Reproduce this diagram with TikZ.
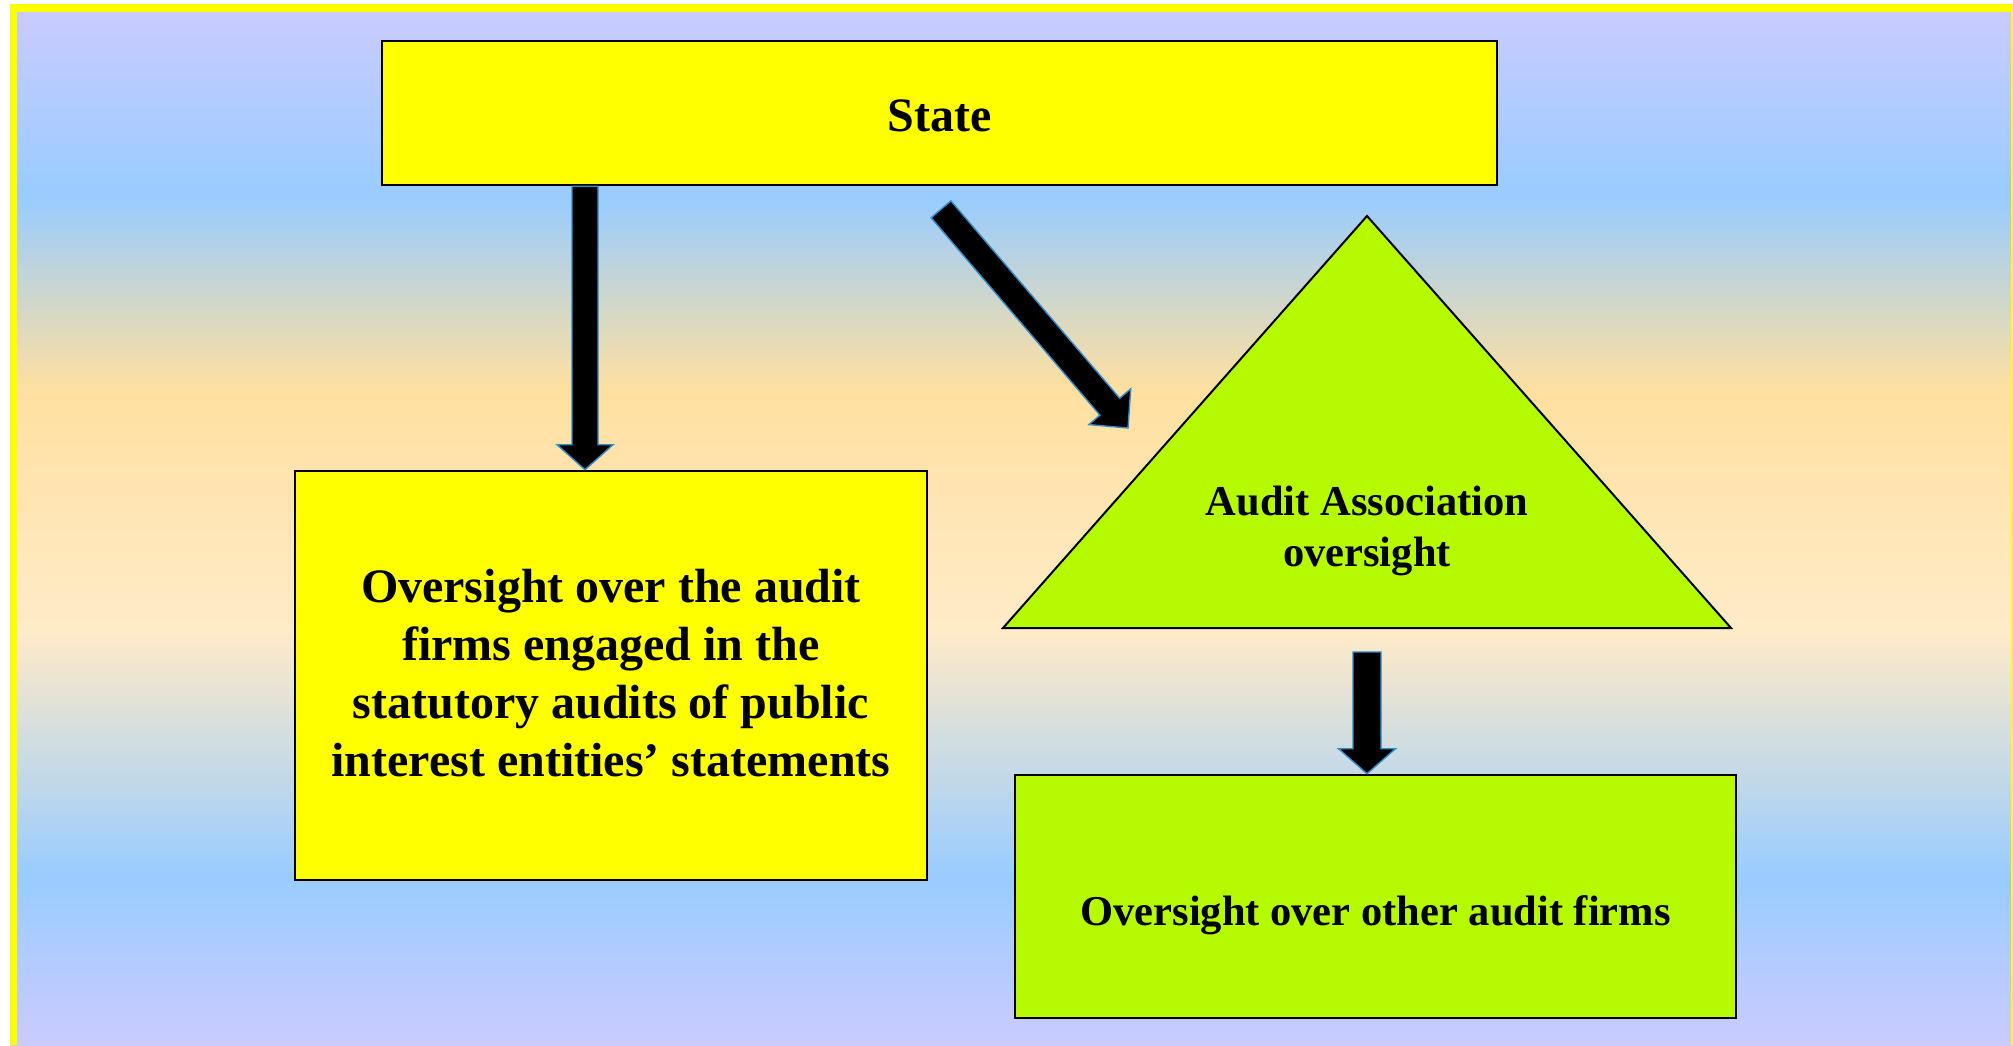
\documentclass[tikz,border=0pt]{standalone}
\usepackage{fontspec}
\setmainfont{Liberation Serif}
\usetikzlibrary{calc}

\definecolor{lavender}{RGB}{203,203,255}
\definecolor{skyblue}{RGB}{153,204,255}
\definecolor{peach}{RGB}{255,224,160}
\definecolor{cream}{RGB}{255,235,200}
\definecolor{boxyellow}{RGB}{255,255,0}
\definecolor{lime}{RGB}{182,250,0}
\definecolor{arrowedge}{RGB}{50,140,200}

% block arrow from #1 to #2: shaft half-width #3, head half-width #4, head length #5
\newcommand{\blockarrow}[5]{%
  \path ($(#2)!#5!(#1)$) coordinate (hb);
  \filldraw[blockarr]
    ($(#1)!#3!90:(#2)$) -- ($(hb)!#3!-90:(#1)$) -- ($(hb)!#4!-90:(#1)$)
    -- (#2) -- ($(hb)!#4!90:(#1)$) -- ($(hb)!#3!90:(#1)$)
    -- ($(#1)!#3!-90:(#2)$) -- cycle;
}

\begin{document}
\begin{tikzpicture}[x=1pt,y=-1pt,
  box/.style={draw=black, line width=2.6pt, rectangle, inner sep=0pt, align=center},
  bigtext/.style={font=\bfseries\fontsize{48}{58}\selectfont},
  smalltext/.style={font=\bfseries\fontsize{42.5}{51}\selectfont},
  blockarr/.style={fill=black, draw=arrowedge, line width=1.4pt, line join=miter},
  tri/.style={fill=lime, draw=black, line width=2pt, line join=miter}]
\useasboundingbox (0,0) rectangle (2013,1045);

% banded background
\shade[top color=lavender, bottom color=skyblue] (10,4) rectangle (2013,197);
\shade[top color=skyblue, bottom color=peach] (10,197) rectangle (2013,390);
\shade[top color=peach, bottom color=cream] (10,390) rectangle (2013,630);
\shade[top color=cream, bottom color=skyblue] (10,630) rectangle (2013,877);
\shade[top color=skyblue, bottom color=lavender] (10,877) rectangle (2013,1045);

% frame
\fill[boxyellow] (10,4) rectangle (17,1045);
\fill[boxyellow] (10,4) rectangle (2013,12);
\fill[boxyellow] (2011,4) rectangle (2013,1045);

% boxes
\node[box, fill=boxyellow, minimum width=1115pt, minimum height=144pt] (state) at (939.5,113) {};
\node[bigtext] (statetext) at ($(state.center)+(0,2.5)$) {State};
\node[box, fill=boxyellow, minimum width=632pt, minimum height=409pt] (pie) at (611,675.5) {};
\node[bigtext, align=center] (pietext) at ($(pie.center)+(0,-2.5)$)
  {Oversight over the audit\\firms engaged in the\\statutory audits of public\\interest entities’ statements};
\node[box, fill=lime, minimum width=721pt, minimum height=243pt] (other) at (1375.5,896.5) {};
\node[smalltext, anchor=base] (othertext) at (1375.5,925) {Oversight over other audit firms};

% association triangle
\coordinate (tA) at (1367,216);
\coordinate (tL) at (1003,628);
\coordinate (tR) at (1731,628);
\filldraw[tri] (tA) -- (tL) -- (tR) -- cycle;
\node[smalltext, align=center] (assoc) at (1367,530.5) {Audit Association\\oversight};

% arrows
\coordinate (xl) at (585,0);
\coordinate (a1s) at (state.south -| xl);
\coordinate (a1e) at (pie.north -| xl);
\blockarrow{a1s}{a1e}{13pt}{28pt}{25pt}

\coordinate (a2s) at ($(state.south)+(1.5,23)$);
\coordinate (a2e) at (1128,428);
\blockarrow{a2s}{a2e}{13pt}{27.5pt}{28pt}

\coordinate (a3s) at ($(tA |- tL)+(0,24)$);
\coordinate (a3e) at (other.north -| tA);
\blockarrow{a3s}{a3e}{14pt}{28.5pt}{25pt}
\end{tikzpicture}
\end{document}
